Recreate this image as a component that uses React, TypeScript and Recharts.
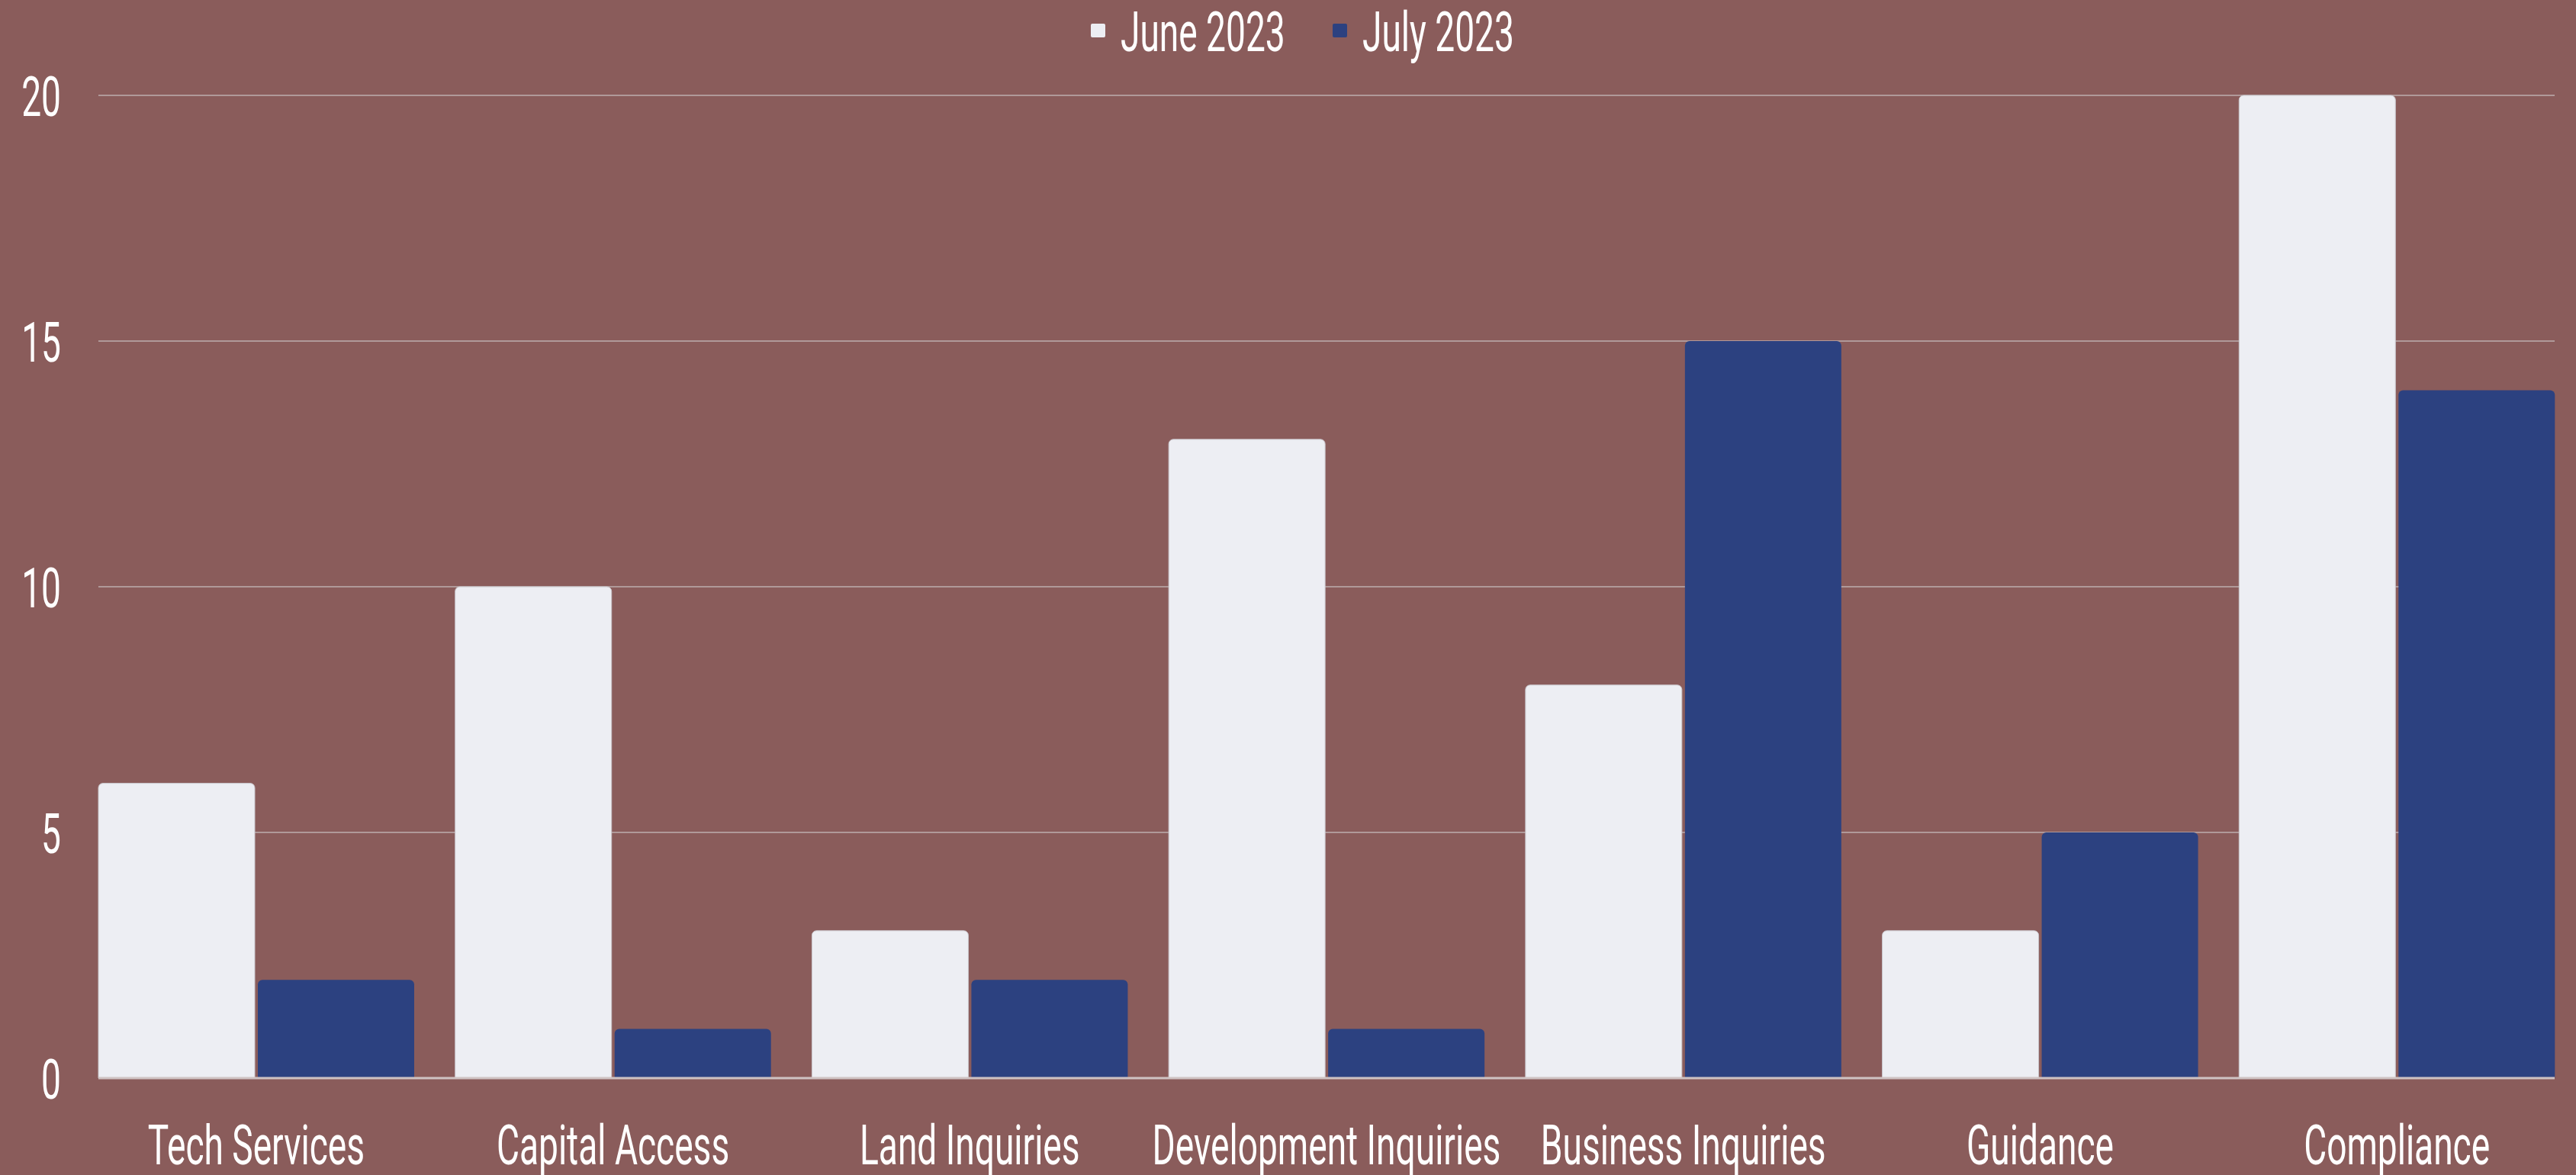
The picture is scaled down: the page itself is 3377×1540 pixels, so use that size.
import * as React from "react";
import { BarChart, Bar, XAxis, YAxis, CartesianGrid, Legend } from "recharts";

const categories = [
  "Tech Services",
  "Capital Access",
  "Land Inquiries",
  "Development Inquiries",
  "Business Inquiries",
  "Guidance",
  "Compliance",
];
const june2023 = [6, 10, 3, 13, 8, 3, 20];
const july2023 = [2, 1, 2, 1, 15, 5, 14];
const seriesNames = ["June 2023", "July 2023"];
const yTicks = [0, 5, 10, 15, 20];

const BG = "#8a5c5b";
const JUNE = "#edeef3";
const JULY = "#2c4180";
const FONT = "Roboto, 'Noto Sans', sans-serif";
const SQUEEZE = 0.64;

const chartData = categories.map((name, i) => ({
  name,
  june: june2023[i],
  july: july2023[i],
}));

function XTick({ x, y, payload }: any) {
  return (
    <text
      transform={`translate(${x},${y}) scale(${SQUEEZE},1)`}
      y={113}
      textAnchor="middle"
      fill="#ffffff"
      fontSize={72}
      fontFamily={FONT}
    >
      {payload.value}
    </text>
  );
}

function YTick({ y, payload }: any) {
  return (
    <text
      transform={`translate(80,${y}) scale(${SQUEEZE},1)`}
      y={27}
      textAnchor="end"
      fill="#ffffff"
      fontSize={72}
      fontFamily={FONT}
    >
      {payload.value}
    </text>
  );
}

function LegendContent({ payload }: any) {
  const items = [...(payload || [])].sort(
    (a: any, b: any) => seriesNames.indexOf(a.value) - seriesNames.indexOf(b.value)
  );
  return (
    <svg width={3377} height={125} style={{ display: "block" }}>
      {items.map((entry: any, i: number) => {
        const x0 = 1430 + i * 317;
        return (
          <g key={entry.value}>
            <rect x={x0} y={31} width={19} height={18} rx={2} fill={entry.color} />
            <text
              transform={`translate(${x0 + 39},67) scale(${SQUEEZE},1)`}
              fill="#ffffff"
              fontSize={72}
              fontFamily={FONT}
            >
              {entry.value}
            </text>
          </g>
        );
      })}
    </svg>
  );
}

export default function App() {
  return (
    <div
      style={{
        position: "absolute",
        left: 0,
        top: 0,
        width: 3377,
        height: 1540,
        background: BG,
        overflow: "hidden",
      }}
    >
      <BarChart
        width={3377}
        height={1540}
        data={chartData}
        margin={{ top: 0, right: 28, bottom: 27, left: 0 }}
        barCategoryGap={27}
        barGap={4}
      >
        <CartesianGrid vertical={false} stroke="#b09999" strokeWidth={2} />
        <XAxis
          dataKey="name"
          height={100}
          padding={{ left: -27, right: -27 }}
          tickLine={false}
          tickSize={0}
          tickMargin={0}
          axisLine={{ stroke: "#cfc3c3", strokeWidth: 3 }}
          tick={<XTick />}
          interval={0}
        />
        <YAxis
          width={129}
          domain={[0, 20]}
          ticks={yTicks}
          axisLine={false}
          tickLine={false}
          tick={<YTick />}
        />
        <Legend verticalAlign="top" align="center" content={<LegendContent />} />
        <Bar
          dataKey="june"
          name={seriesNames[0]}
          fill={JUNE}
          stroke="#c9c6cc"
          strokeWidth={1}
          radius={[6, 6, 0, 0]}
          isAnimationActive={false}
        />
        <Bar
          dataKey="july"
          name={seriesNames[1]}
          fill={JULY}
          radius={[6, 6, 0, 0]}
          isAnimationActive={false}
        />
      </BarChart>
    </div>
  );
}
